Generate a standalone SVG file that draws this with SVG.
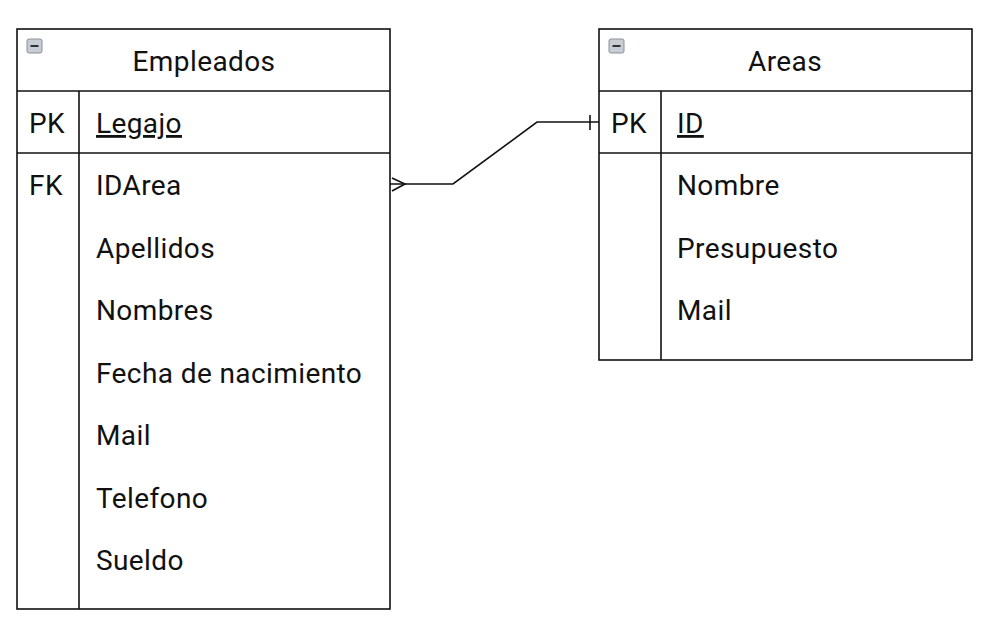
<svg xmlns="http://www.w3.org/2000/svg" width="991" height="625" viewBox="0 0 991 625">
<style>
.box{fill:#fff;stroke:#111;stroke-width:1.6}
.ln{stroke:#111;stroke-width:1.6;fill:none}
.t{font-family:Roboto,"Liberation Sans",sans-serif;font-size:28px;letter-spacing:0.4px;fill:#111}
.h{text-anchor:middle}
.u{text-decoration:underline}
.ic{fill:#c8ccd4;stroke:#8a8f99;stroke-width:1}
.icm{stroke:#333;stroke-width:2}
</style>
<rect width="991" height="625" fill="#fff"/>
<g id="empleados">
<rect class="box" x="17" y="29" width="373" height="580"/>
<line class="ln" x1="17" y1="91" x2="390" y2="91"/>
<line class="ln" x1="17" y1="153" x2="390" y2="153"/>
<line class="ln" x1="79" y1="91" x2="79" y2="609"/>
<rect class="ic" x="27" y="39" width="15" height="14" rx="2"/>
<line class="icm" x1="30.5" y1="46" x2="38.5" y2="46"/>
<text class="t h" x="204" y="71">Empleados</text>
<text class="t" x="29" y="133">PK</text>
<text class="t u" x="96" y="133">Legajo</text>
<text class="t" x="29" y="195">FK</text>
<text class="t" x="96" y="195">IDArea</text>
<text class="t" x="96" y="258">Apellidos</text>
<text class="t" x="96" y="320">Nombres</text>
<text class="t" x="96" y="383">Fecha de nacimiento</text>
<text class="t" x="96" y="445">Mail</text>
<text class="t" x="96" y="508">Telefono</text>
<text class="t" x="96" y="570">Sueldo</text>
</g>
<g id="areas">
<rect class="box" x="599" y="29" width="373" height="331"/>
<line class="ln" x1="599" y1="91" x2="972" y2="91"/>
<line class="ln" x1="599" y1="153" x2="972" y2="153"/>
<line class="ln" x1="661" y1="91" x2="661" y2="360"/>
<rect class="ic" x="609" y="39" width="15" height="14" rx="2"/>
<line class="icm" x1="612.5" y1="46" x2="620.5" y2="46"/>
<text class="t h" x="785" y="71">Areas</text>
<text class="t" x="611" y="133">PK</text>
<text class="t u" x="677" y="133">ID</text>
<text class="t" x="677" y="195">Nombre</text>
<text class="t" x="677" y="258">Presupuesto</text>
<text class="t" x="677" y="320">Mail</text>
</g>
<g id="connectors">
<polyline class="ln" points="390,184 453,184 537,122 599,122"/>
<polyline class="ln" points="392,178 405,184 392,191"/>
<line class="ln" x1="590" y1="115" x2="590" y2="130"/>
</g>
</svg>
